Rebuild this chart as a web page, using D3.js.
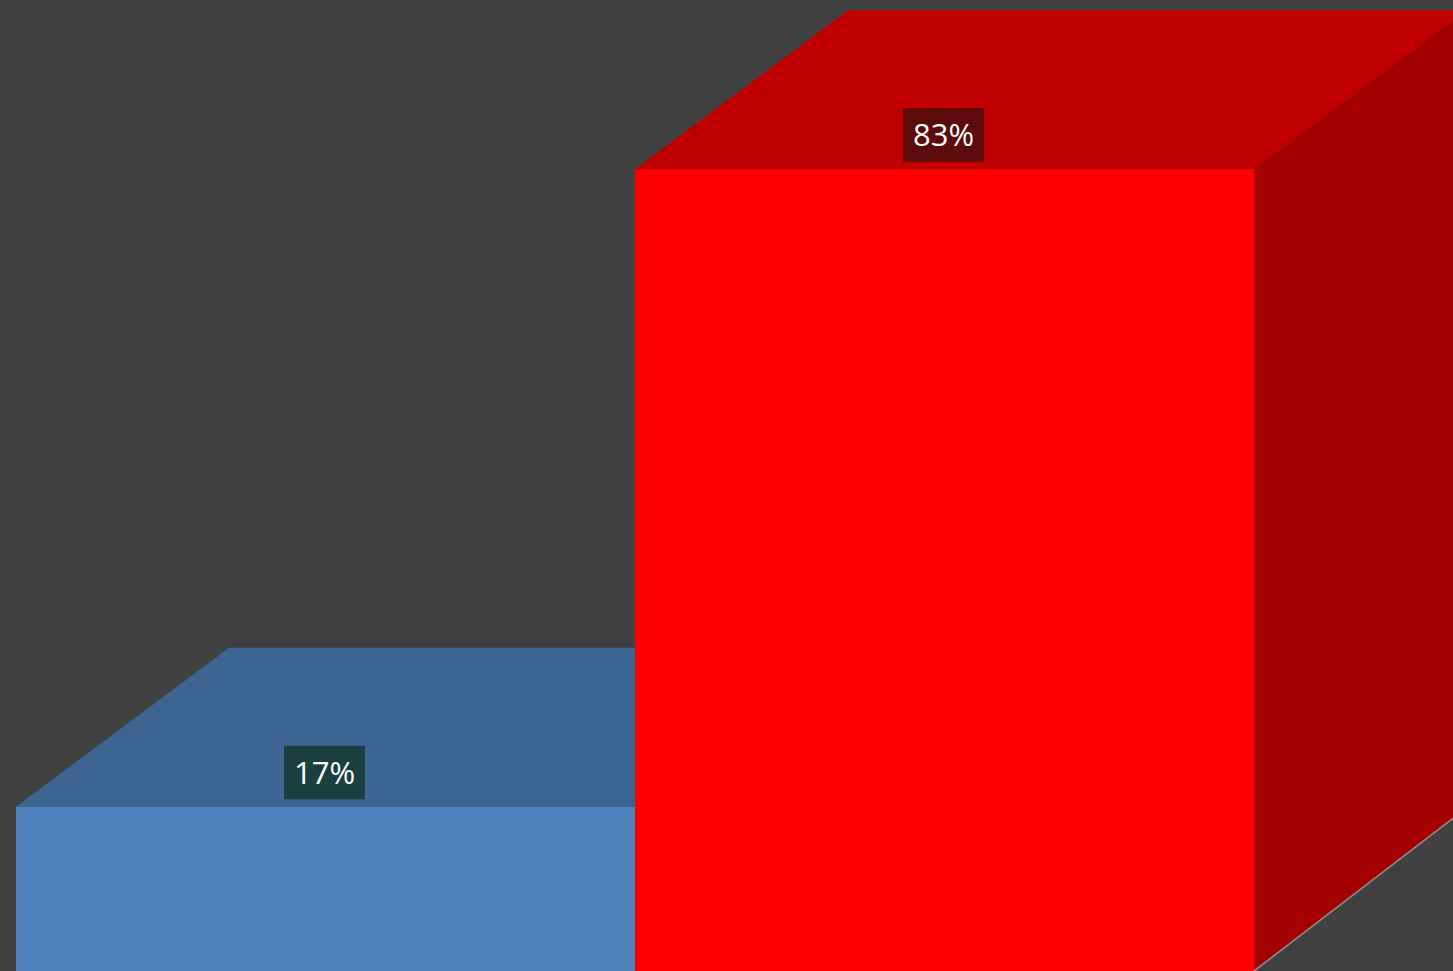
<!DOCTYPE html>
<html>
<head>
<meta charset="utf-8">
<script src="https://cdn.jsdelivr.net/npm/d3@7"></script>
<style>
html,body{margin:0;padding:0;background:#404040;overflow:hidden;}
svg{display:block;}
</style>
</head>
<body>
<svg id="chart" width="1453" height="971"></svg>
<script>
const categories = ["Category 1", "Category 2"];
const values = [17, 83];
const labels = ["17%", "83%"];

const frontColors = ["#4F81BD", "#FF0000"];
const topColors = ["#3D6591", "#C00000"];
const sideColors = ["#34567C", "#A30000"];
const labelBg = ["#1A3F40", "#5C0A0A"];

const W = 1453, H = 971;
const svg = d3.select("#chart");
svg.append("rect").attr("width", W).attr("height", H).attr("fill", "#404040");

const x = d3.scaleBand().domain(categories).range([16, 1254]).padding(0);
const y = d3.scaleLinear().domain([0, 100]).range([971, 5]);

const dx = 213, dy = 159;      // depth offset of top faces
const floorDy = 163.5;         // depth offset along the floor edge

const data = categories.map((c, i) => ({c, v: values[i], label: labels[i], i}));

const g = svg.append("g");

data.forEach(d => {
  const x0 = x(d.c), x1 = x(d.c) + x.bandwidth();
  const yt = y(d.v), yb = y(0);
  const bar = g.append("g");
  bar.append("path")
    .attr("d", `M${x1},${yt} L${x1+dx},${yt-dy} L${x1+dx},${yb-floorDy} L${x1},${yb} Z`)
    .attr("fill", sideColors[d.i]);
  bar.append("path")
    .attr("d", `M${x0},${yt} L${x1},${yt} L${x1+dx},${yt-dy} L${x0+dx},${yt-dy} Z`)
    .attr("fill", topColors[d.i]);
  bar.append("rect")
    .attr("x", x0).attr("y", yt)
    .attr("width", x.bandwidth() + 0.5).attr("height", yb - yt + 2)
    .attr("fill", frontColors[d.i]);
});

const lastX = x(categories[categories.length-1]) + x.bandwidth();
svg.append("line")
  .attr("x1", lastX).attr("y1", y(0))
  .attr("x2", lastX + dx).attr("y2", y(0) - floorDy)
  .attr("stroke", "#8C8C8C").attr("stroke-width", 1.6);

data.forEach(d => {
  const cx = x(d.c) + x.bandwidth() / 2 - 1;
  const boxBottom = y(d.v) - 7.5;
  const boxH = 53.5;
  const lg = svg.append("g");
  lg.append("rect").attr("fill", labelBg[d.i])
    .attr("x", cx - 40.5).attr("y", boxBottom - boxH)
    .attr("width", 81).attr("height", boxH);
  lg.append("text")
    .attr("x", cx)
    .attr("y", boxBottom - boxH / 2)
    .attr("dy", "0.37em")
    .attr("text-anchor", "middle")
    .attr("fill", "#FFFFFF")
    .style("font-family", "'Open Sans', 'Liberation Sans', sans-serif")
    .style("font-size", "31px")
    .text(d.label);
});
</script>
</body>
</html>
